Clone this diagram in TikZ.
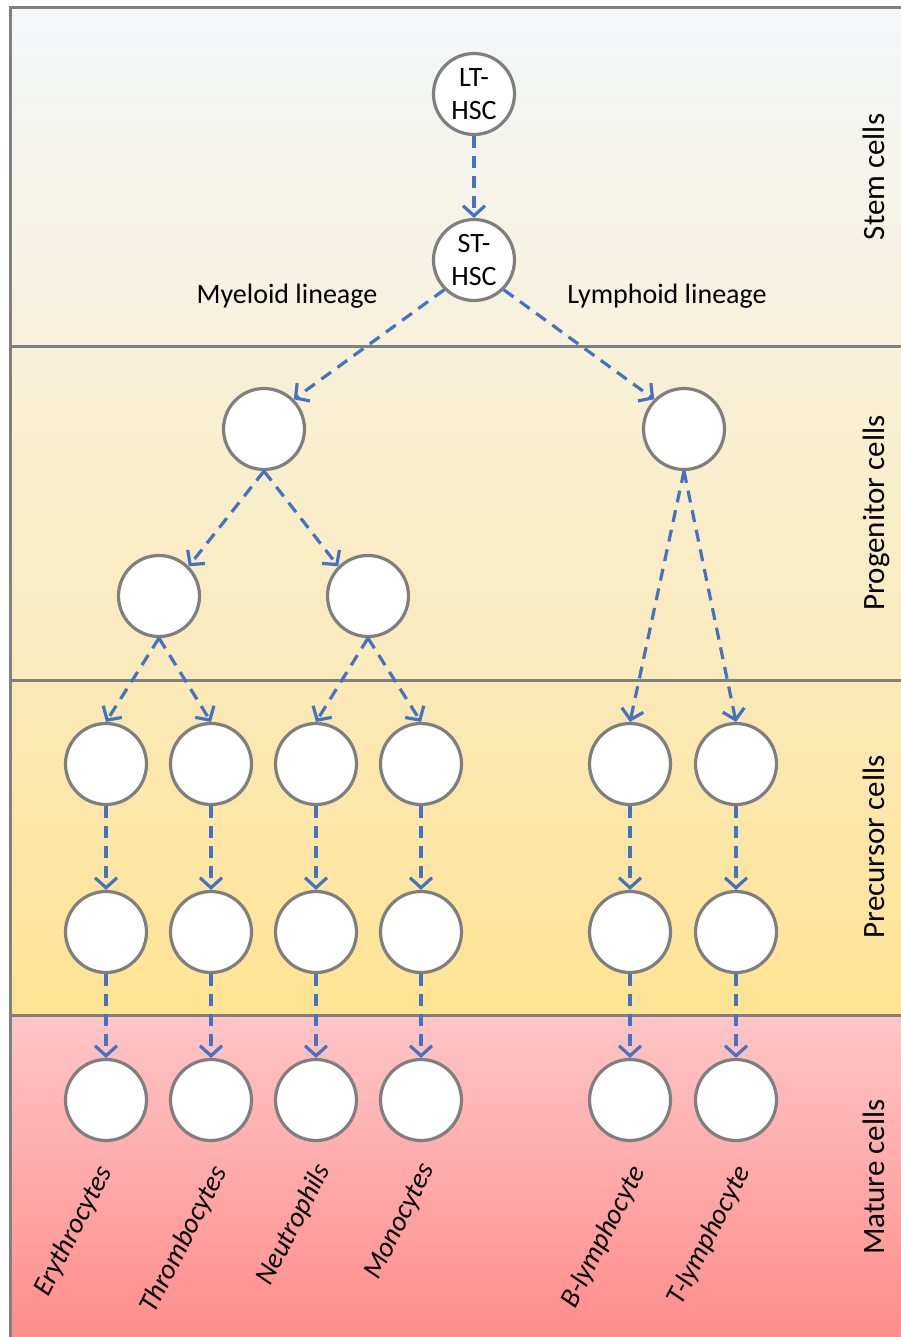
\documentclass[tikz,border=0pt]{standalone}
\usepackage{fontspec}
\setmainfont{Carlito}
\usetikzlibrary{arrows.meta}
\definecolor{framegray}{HTML}{808080}
\definecolor{cellgray}{HTML}{7F7F7F}
\definecolor{linkblue}{HTML}{4472C4}
\tikzset{
  cell/.style={circle, draw=cellgray, line width=3.2pt, fill=white,
    minimum size=81pt, inner sep=0pt, align=center,
    font=\fontsize{28}{33}\selectfont},
  link/.style={draw=linkblue, line width=3.2pt, dash pattern=on 12pt off 8pt,
    -{Straight Barb[length=10pt,width=22pt]}},
  band/.style={line width=3pt, draw=framegray},
  bandname/.style={rotate=90, anchor=base, font=\fontsize{31}{36}\selectfont},
  lineage/.style={anchor=base, font=\fontsize{28}{32}\selectfont},
  mature/.style={rotate=63, anchor=east, inner sep=0pt,
    font=\fontsize{28}{32}\selectfont\itshape}
}
\begin{document}
\begin{tikzpicture}[x=1pt, y=-1pt]
\useasboundingbox (0,0) rectangle (901,1337);
\clip (0,0) rectangle (901,1337);
% background bands
\shade[top color={rgb,255:red,243;green,247;blue,251}, bottom color={rgb,255:red,248;green,241;blue,219}] (10,8) rectangle (905,346);
\shade[top color={rgb,255:red,248;green,241;blue,217}, bottom color={rgb,255:red,251;green,234;blue,186}] (10,346) rectangle (905,680);
\shade[top color={rgb,255:red,251;green,233;blue,184}, bottom color={rgb,255:red,255;green,228;blue,147}] (10,680) rectangle (905,1015);
\shade[top color={rgb,255:red,255;green,198;blue,198}, bottom color={rgb,255:red,255;green,139;blue,139}] (10,1015) rectangle (905,1345);
% frame and band separators
\draw[band] (10,1345) -- (10,8) -- (905,8);
\draw[band] (10,346) -- (905,346);
\draw[band] (10,680) -- (905,680);
\draw[band] (10,1015) -- (905,1015);
% band names
\node[bandname] (nstem) at (884,177) {Stem cells};
\node[bandname] (nprog) at (884,513) {Progenitor cells};
\node[bandname] (nprec) at (884,847) {Precursor cells};
\node[bandname] (nmat)  at (884,1177) {Mature cells};
% stem cells
\node[cell] (lt) at (474,94) {LT-\\HSC};
\node[cell] (st) at (474,260) {ST-\\HSC};
\node[lineage] (mylab) at (287,304) {Myeloid lineage};
\node[lineage] (lylab) at (667,304) {Lymphoid lineage};
% progenitors
\node[cell] (mp) at (264,429) {};
\node[cell] (lp) at (684,429) {};
\node[cell] (m1) at (159,596) {};
\node[cell] (m2) at (368,596) {};
% precursors and mature cells
\foreach \i/\x in {1/106,2/211,3/316,4/421,5/630,6/736} {
  \node[cell] (p\i) at (\x,764) {};
  \node[cell] (q\i) at (\x,932) {};
  \node[cell] (r\i) at (\x,1100) {};
}
% mature cell names
\node[mature] (t1) at (106,1168) {Erythrocytes};
\node[mature] (t2) at (221,1168) {Thrombocytes};
\node[mature] (t3) at (324,1166) {Neutrophils};
\node[mature] (t4) at (429,1166) {Monocytes};
\node[mature] (t5) at (639,1168) {B-lymphocyte};
\node[mature] (t6) at (744,1168) {T-lymphocyte};
% lineage links
\draw[link] (lt.south) -- (st.north);
\draw[link] (st.south west) -- (mp.north east);
\draw[link] (st.south east) -- (lp.north west);
\draw[link] (mp.south) -- (m1.north east);
\draw[link] (mp.south) -- (m2.north west);
\draw[link] (m1.south) -- (p1.north);
\draw[link] (m1.south) -- (p2.north);
\draw[link] (m2.south) -- (p3.north);
\draw[link] (m2.south) -- (p4.north);
\draw[link] (lp.south) -- (p5.north);
\draw[link] (lp.south) -- (p6.north);
\foreach \i in {1,...,6} {
  \draw[link] (p\i.south) -- (q\i.north);
  \draw[link] (q\i.south) -- (r\i.north);
}
\end{tikzpicture}
\end{document}
